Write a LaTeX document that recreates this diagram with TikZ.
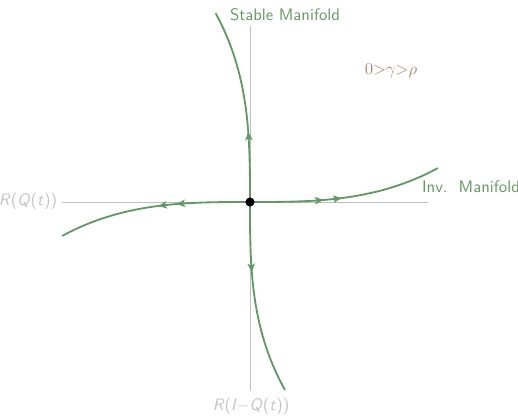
\documentclass[tikz,border=0pt]{standalone}
\usetikzlibrary{arrows.meta,decorations.markings}
\definecolor{mangreen}{RGB}{98,152,98}
\definecolor{axgray}{RGB}{190,190,190}
\definecolor{labgray}{RGB}{195,195,195}
\definecolor{tan}{RGB}{170,135,105}
\begin{document}
\begin{tikzpicture}[x=0.6pt,y=-0.6pt,
  axisline/.style={draw=axgray,line width=0.6pt},
  manifold/.style={draw=mangreen,line width=1.1pt,line join=round},
  tipmark/.style={postaction={decorate},decoration={markings,
     mark=at position #1 with {\arrow[mangreen]{Stealth[length=5pt,width=4.5pt,inset=1.2pt]}}}},
  twotips/.style={postaction={decorate},decoration={markings,
     mark=at position 44pt with {\arrow[mangreen]{Stealth[length=5pt,width=4.5pt,inset=1.2pt]}},
     mark=at position 55pt with {\arrow[mangreen]{Stealth[length=5pt,width=4.5pt,inset=1.2pt]}}}},
  manlabel/.style={text=mangreen,font=\sffamily},
  axlabel/.style={text=labgray,font=\sffamily}]
\useasboundingbox (0,0) rectangle (518,416);
% axes
\coordinate (hl) at (62,202);
\coordinate (hr) at (428,202);
\coordinate (vt) at (250,26);
\coordinate (vb) at (250,391);
\path[axisline] (hl) -- (hr);
\path[axisline] (vt) -- (vb);
\node[axlabel,anchor=east,inner sep=1pt] (rq) at (59,201) {\textit{R}(\textit{Q}(\textit{t}))};
\node[axlabel,inner sep=1pt] (riq) at (251,406) {\textit{R}(\textit{I}$-$\textit{Q}(\textit{t}))};
% manifolds
\coordinate (O) at (250,202);
\begin{scope}[shift={(250,202)}]
\path[manifold,twotips] plot[domain=0:1,samples=80] ({188*\x},{-34*\x*\x*\x});
\path[manifold,twotips] plot[domain=0:1,samples=80] ({-188*\x},{34*\x*\x*\x});
\path[manifold,tipmark=42pt] plot[domain=0:1,samples=80] ({-34.5*\x*\x*\x},{-189*\x});
\path[manifold,tipmark=42pt] plot[domain=0:1,samples=80] ({35*\x*\x*\x},{188*\x});
\end{scope}
\node[circle,fill=black,inner sep=0pt,minimum size=5.5pt] (origin) at (O) {};
\node[manlabel,anchor=west,inner sep=1pt] (sm) at (228,15) {Stable Manifold};
\node[manlabel,anchor=west,inner sep=1pt] (im) at (420,187) {Inv.\ \ Manifold};
\node[text=tan,inner sep=1pt] (cond) at (391,71) {$0{>}\gamma{>}\rho$};
\end{tikzpicture}
\end{document}
